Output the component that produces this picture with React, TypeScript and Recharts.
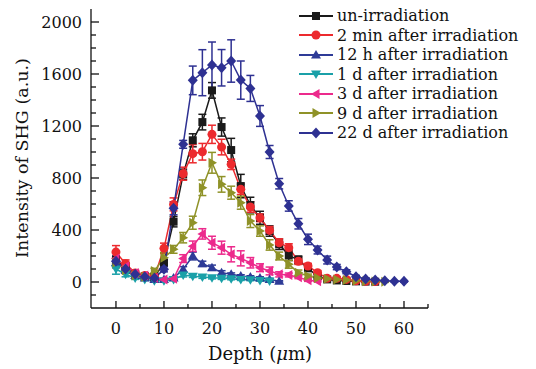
import React from "react";
import { LineChart, Line, XAxis, YAxis, ErrorBar } from "recharts";

const depth = [0, 2, 4, 6, 8, 10, 12, 14, 16, 18, 20, 22, 24, 26, 28, 30, 32, 34, 36, 38, 40, 42, 44, 46, 48, 50, 52, 54, 56, 58, 60];

const unIrr = [170, 110, 60, 45, 35, 150, 464, 828, 1090, 1230, 1474, 1192, 1015, 738, 592, 494, 392, 290, 205, 170, 105, 46, 20, 12, 8, 5, 3, 2];
const unIrrErr = [30, 25, 15, 10, 10, 20, 40, 40, 50, 60, 60, 70, 90, 90, 60, 50, 40, 40, 40, 30, 20, 15, 10, 8, 5, 5, 5, 5];
const min2 = [230, 140, 70, 50, 40, 259, 597, 833, 987, 1002, 1136, 1038, 905, 713, 577, 494, 397, 302, 264, 160, 123, 72, 28, 28, 20, 10, 5, 3];
const min2Err = [50, 30, 20, 15, 10, 40, 50, 50, 70, 64, 70, 60, 40, 40, 40, 30, 30, 30, 30, 25, 20, 15, 10, 10, 8, 5, 5, 5];
const h12 = [150, 90, 50, 30, 20, 20, 30, 98, 200, 140, 110, 72, 60, 46, 38, 30, 20, 5];
const h12Err = [40, 20, 10, 10, 5, 5, 10, 20, 30, 20, 20, 15, 10, 10, 10, 10, 8, 5];
const d1 = [100, 60, 30, 20, 10, 10, 20, 54, 45, 38, 32, 28, 25, 20, 18, 12, 8];
const d1Err = [40, 20, 10, 8, 5, 5, 8, 15, 10, 10, 8, 8, 8, 8, 8, 5, 5];
const d3 = [180, 120, 70, 50, 30, 20, 25, 180, 275, 370, 302, 264, 213, 182, 148, 110, 85, 59, 54, 36, 13, 5];
const d3Err = [50, 30, 20, 15, 10, 8, 10, 30, 40, 40, 50, 50, 58, 58, 40, 30, 30, 20, 15, 10, 8, 5];
const d9 = [150, 90, 50, 40, 85, 187, 251, 341, 456, 725, 917, 751, 687, 610, 469, 392, 285, 200, 136, 72, 46, 30, 25, 20, 15, 10, 5, 3, 2];
const d9Err = [40, 25, 15, 10, 20, 40, 30, 40, 50, 60, 80, 60, 50, 50, 50, 40, 40, 30, 30, 20, 15, 10, 10, 8, 5, 5, 5, 5, 5];
const d22 = [160, 100, 60, 40, 30, 98, 567, 1059, 1551, 1610, 1669, 1648, 1700, 1553, 1489, 1277, 1000, 756, 585, 448, 328, 246, 169, 115, 79, 41, 23, 15, 10, 5, 5];
const d22Err = [40, 25, 15, 10, 8, 20, 50, 30, 110, 177, 177, 140, 163, 147, 100, 80, 50, 40, 40, 40, 40, 30, 30, 20, 15, 10, 8, 5, 5, 5, 5];

const xTicks = [0, 5, 10, 15, 20, 25, 30, 35, 40, 45, 50, 55, 60, 65];
const yTicks = [-100, 0, 100, 200, 300, 400, 500, 600, 700, 800, 900, 1000, 1100, 1200, 1300, 1400, 1500, 1600, 1700, 1800, 1900, 2000];

const FONT = "'DejaVu Serif', serif";

type Shape = "square" | "circle" | "up" | "down" | "left" | "right" | "diamond";

const series: { key: string; name: string; color: string; shape: Shape; values: number[]; errs: number[] }[] = [
  { key: "un", name: "un-irradiation", color: "#1a1a1a", shape: "square", values: unIrr, errs: unIrrErr },
  { key: "m2", name: "2 min after irradiation", color: "#ec2a2e", shape: "circle", values: min2, errs: min2Err },
  { key: "h12", name: "12 h after irradiation", color: "#2e3b97", shape: "up", values: h12, errs: h12Err },
  { key: "d1", name: "1 d after irradiation", color: "#1aa0a8", shape: "down", values: d1, errs: d1Err },
  { key: "d3", name: "3 d after irradiation", color: "#ec2a8c", shape: "left", values: d3, errs: d3Err },
  { key: "d9", name: "9 d after irradiation", color: "#8f9228", shape: "right", values: d9, errs: d9Err },
  { key: "d22", name: "22 d after irradiation", color: "#2e3192", shape: "diamond", values: d22, errs: d22Err },
];

const data = depth.map((d, i) => {
  const row: Record<string, number | null> = { depth: d };
  series.forEach((s) => {
    row[s.key] = i < s.values.length ? s.values[i] : null;
    row[s.key + "Err"] = i < s.errs.length ? s.errs[i] : null;
  });
  return row;
});

function Marker({ shape, cx, cy, color }: { shape: Shape; cx: number; cy: number; color: string }) {
  const s = 4.5;
  switch (shape) {
    case "square":
      return <rect x={cx - 4} y={cy - 4} width={8} height={8} fill={color} />;
    case "circle":
      return <circle cx={cx} cy={cy} r={4.5} fill={color} />;
    case "up":
      return <polygon points={`${cx},${cy - s - 0.5} ${cx + s + 0.5},${cy + s - 1} ${cx - s - 0.5},${cy + s - 1}`} fill={color} />;
    case "down":
      return <polygon points={`${cx},${cy + s + 0.5} ${cx + s + 0.5},${cy - s + 1} ${cx - s - 0.5},${cy - s + 1}`} fill={color} />;
    case "left":
      return <polygon points={`${cx - s - 0.5},${cy} ${cx + s - 1},${cy - s - 0.5} ${cx + s - 1},${cy + s + 0.5}`} fill={color} />;
    case "right":
      return <polygon points={`${cx + s + 0.5},${cy} ${cx - s + 1},${cy - s - 0.5} ${cx - s + 1},${cy + s + 0.5}`} fill={color} />;
    case "diamond":
      return <polygon points={`${cx},${cy - 5.5} ${cx + 5},${cy} ${cx},${cy + 5.5} ${cx - 5},${cy}`} fill={color} />;
  }
  return null;
}

const makeDot = (shape: Shape, color: string) => (props: any) => {
  const { cx, cy, index, value } = props;
  if (cx == null || cy == null || value == null) return <g key={index} />;
  return (
    <g key={index}>
      <Marker shape={shape} cx={cx} cy={cy} color={color} />
    </g>
  );
};

const XTick = (props: any) => {
  const { x, y, payload } = props;
  const major = payload.value % 10 === 0;
  return (
    <g>
      <line x1={x} x2={x} y1={y} y2={y - (major ? 7 : 4)} stroke="#111" strokeWidth={1.3} />
      {major && payload.value <= 60 && (
        <text x={x} y={y + 26} textAnchor="middle" fontFamily={FONT} fontSize={16} fill="#111">
          {payload.value}
        </text>
      )}
    </g>
  );
};

const YTick = (props: any) => {
  const { x, y, payload } = props;
  const major = payload.value % 400 === 0;
  return (
    <g>
      <line x1={x} x2={x + (major ? 8 : 5)} y1={y} y2={y} stroke="#111" strokeWidth={1.3} />
      {major && (
        <text x={x - 9} y={y + 6} textAnchor="end" fontFamily={FONT} fontSize={16} fill="#111">
          {payload.value}
        </text>
      )}
    </g>
  );
};

function LegendBox() {
  return (
    <div
      style={{
        position: "absolute",
        left: 298,
        top: 6,
        fontFamily: FONT,
        fontSize: 16,
        color: "#111",
        lineHeight: "19.5px",
      }}
    >
      {series.map((s) => (
        <div key={s.key} style={{ display: "flex", alignItems: "center", height: 19.5, whiteSpace: "nowrap" }}>
          <svg width={36} height={14} style={{ marginRight: 3 }}>
            <line x1={1} x2={35} y1={7} y2={7} stroke={s.color} strokeWidth={1.8} />
            <Marker shape={s.shape} cx={18} cy={7} color={s.color} />
          </svg>
          <span>{s.name}</span>
        </div>
      ))}
    </div>
  );
}

export default function App() {
  return (
    <div style={{ position: "absolute", left: 0, top: 0, width: 536, height: 369, background: "#fff" }}>
      <LineChart width={536} height={369} data={data} margin={{ top: 9, right: 108, bottom: 31, left: 31 }}>
        <XAxis
          dataKey="depth"
          type="number"
          domain={[-5.2, 65]}
          ticks={xTicks}
          tick={<XTick />}
          tickSize={0}
          tickMargin={0}
          tickLine={false}
          height={30}
          stroke="#111"
          strokeWidth={1.3}
          interval={0}
          allowDataOverflow
        />
        <YAxis
          type="number"
          domain={[-200, 2100]}
          ticks={yTicks}
          tick={<YTick />}
          tickSize={0}
          tickMargin={0}
          tickLine={false}
          width={60}
          stroke="#111"
          strokeWidth={1.3}
          interval={0}
          allowDataOverflow
        />
        {series.map((s) => (
          <Line
            key={s.key}
            dataKey={s.key}
            name={s.name}
            stroke={s.color}
            strokeWidth={1.5}
            dot={makeDot(s.shape, s.color)}
            activeDot={false}
            isAnimationActive={false}
            connectNulls={false}
          >
            <ErrorBar dataKey={s.key + "Err"} width={4} stroke={s.color} strokeWidth={1.5} direction="y" />
          </Line>
        ))}
      </LineChart>
      <LegendBox />
      <div
        style={{
          position: "absolute",
          left: 22,
          top: 158,
          transform: "translate(-50%, -50%) rotate(-90deg)",
          fontFamily: FONT,
          fontSize: 17.5,
          color: "#111",
          whiteSpace: "nowrap",
        }}
      >
        Intensity of SHG (a.u.)
      </div>
      <div
        style={{
          position: "absolute",
          left: 260,
          top: 353,
          transform: "translate(-50%, -50%)",
          fontFamily: FONT,
          fontSize: 18,
          color: "#111",
          whiteSpace: "nowrap",
        }}
      >
        Depth (<i>μ</i>m)
      </div>
    </div>
  );
}
